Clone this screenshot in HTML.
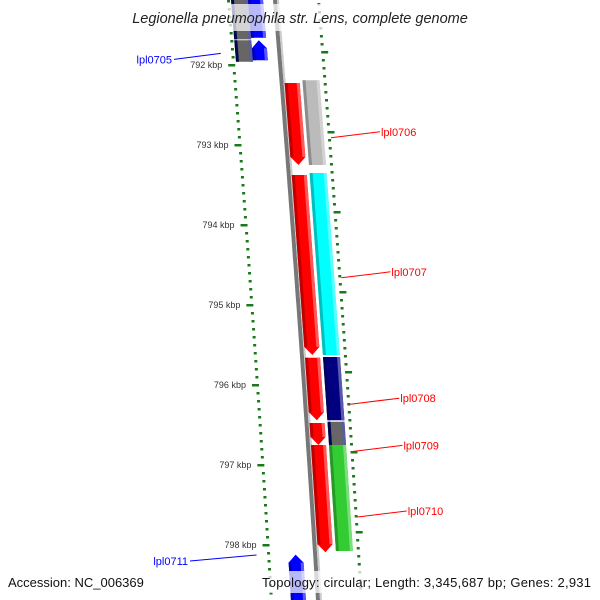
<!DOCTYPE html>
<html><head><meta charset="utf-8"><style>
html,body{margin:0;padding:0;background:#fff;}
svg{display:block;font-family:"Liberation Sans","DejaVu Sans",sans-serif;}
</style></head><body>
<svg id="map" width="600" height="600" viewBox="0 0 600 600" xmlns="http://www.w3.org/2000/svg">
<g id="ticks"></g>
<g id="backbone"></g>
<g id="features"></g>
<g id="labels"></g>
<rect x="0" y="4" width="600" height="27" fill="#fff" fill-opacity="0.72"/>
<text x="300" y="23" text-anchor="middle" font-size="14.5" font-style="italic" fill="#222">Legionella pneumophila str. Lens, complete genome</text>
<rect x="4" y="571" width="126" height="22" fill="#fff" fill-opacity="0.72"/>
<text x="8" y="587" font-size="13" fill="#111">Accession: NC_006369</text>
<rect x="258" y="571" width="338" height="22" fill="#fff" fill-opacity="0.72"/>
<text x="262" y="587" font-size="13" fill="#111" textLength="329">Topology: circular; Length: 3,345,687 bp; Genes: 2,931</text>
</svg>
<script>
// ---- data (kbp) ----
const majorTicks = [792, 793, 794, 795, 796, 797, 798];
const tickLabels = ["792 kbp","793 kbp","794 kbp","795 kbp","796 kbp","797 kbp","798 kbp"];
const featureNames = ["lpl0705a","lpl0705","lpl0705-blue-a","lpl0705-blue","lpl0706","lpl0706-cog","lpl0707","lpl0707-cog","lpl0708","lpl0708-cog","lpl0709","lpl0709-cog","lpl0710","lpl0710-cog","lpl0711"];
const featureStart = [791.0, 791.69, 791.0, 791.69, 792.225, 792.19, 793.375, 793.35, 795.66, 795.65, 796.475, 796.46, 796.75, 796.75, 798.12];
const featureEnd   = [791.68, 791.96, 791.66, 791.94, 793.25, 793.25, 795.625, 795.625, 796.44, 796.44, 796.75, 796.75, 798.09, 798.075, 799.0];
const featureTrack = ["L2","L2","L1","L1","R1","R2","R1","R2","R1","R2","R1","R2","R1","R2","L1"];
const featureArrow = ["none","none","none","up","down","none","down","none","down","none","down","none","down","none","up"];
const featureColor = ["#666","#666","#0000ff","#0000ff","#ff0000","#bbbbbb","#ff0000","#00ffff","#ff0000","#000080","#ff0000","#666","#ff0000","#33cc33","#0000ff"];
const labelText = ["lpl0705","lpl0706","lpl0707","lpl0708","lpl0709","lpl0710","lpl0711"];
const labelKbp  = [791.93, 792.91, 794.66, 796.24, 796.83, 797.65, 798.2];
const labelSide = ["L","R","R","R","R","R","L"];
// ---- axes ----
const Y0 = 65, PXK = 80;
function yOf(k){ return Y0 + (k - 792) * PXK; }
function bb(y){ return 273 + 0.0817*y - 1.68e-5*y*y; }
const trackOff = {L2:[-42,-25], L1:[-25,-10], R1:[5,20], R2:[23,40]};
const NS = "http://www.w3.org/2000/svg";
function mk(tag, attrs, parent){ const e=document.createElementNS(NS,tag); for(const k in attrs) e.setAttribute(k,attrs[k]); parent.appendChild(e); return e; }
const gT=document.getElementById('ticks'), gB=document.getElementById('backbone'), gF=document.getElementById('features'), gL=document.getElementById('labels');
// backbone
function linePts(off){ let s=[]; for(let y=-5;y<=605;y+=10) s.push((bb(y)+off).toFixed(1)+","+y); return s.join(" "); }
let bl1 = mk('polyline',{points:linePts(2),fill:'none',stroke:'#777','stroke-width':4},gB);


let bl2 = mk('polyline',{points:linePts(5),fill:'none',stroke:'#ccc','stroke-width':2},gB);


// minor ticks
for(let k=791.0;k<=798.8;k+=0.1){
  const kk=Math.round(k*10)/10; const y=yOf(kk);
  if(Math.abs(kk-Math.round(kk))>0.01){
    const x=bb(y)-46;
    const d=mk('rect',{x:x,y:y-1,width:3,height:2.5,fill:'#1a7a1a'},gT);
    
    
  }
  const yr=yOf(kk)-13; const xr=bb(yr)+44;
  const isMaj=Math.abs((kk*10)%10-0)<0.01 || Math.abs((kk*10)%10-10)<0.01;
  const r=mk('rect',{x:xr,y:yr-1,width:isMaj?7:3,height:2.5,fill:'#1a7a1a'},gT);
  
  
}
majorTicks.forEach((k,i)=>{
  const y=yOf(k), x=bb(y)-50;
  const t=mk('rect',{x:x,y:y-1,width:7,height:2.5,fill:'#1a7a1a'},gT);
  
  
  const l=mk('text',{x:x-6,y:y+3,'font-size':9,'text-anchor':'end',fill:'#333'},gT);
  l.textContent=tickLabels[i];
  
  
});
// features
function shade(hex,f){ const n=parseInt(hex.slice(1),16); let r=n>>16,g=(n>>8)&255,b=n&255;
  const m=c=>Math.round(f>1? c+(255-c)*(f-1): c*f); return `rgb(${m(r)},${m(g)},${m(b)})`; }
featureNames.forEach((nm,i)=>{
  const y1=yOf(featureStart[i]), y2=yOf(featureEnd[i]);
  const [o1,o2]=trackOff[featureTrack[i]]; const mid=(o1+o2)/2; const tip=8;
  let pts=[];
  const P=(o,y)=>pts.push((bb(y)+o).toFixed(1)+","+y.toFixed(1));
  if(featureArrow[i]==="down"){ P(o1,y1);P(o2,y1);P(o2,y2-tip);P(mid,y2);P(o1,y2-tip); }
  else if(featureArrow[i]==="up"){ P(mid,y1);P(o2,y1+tip);P(o2,y2);P(o1,y2);P(o1,y1+tip); }
  else { P(o1,y1);P(o2,y1);P(o2,y2);P(o1,y2); }
  const g=mk('g',{},gF);
  
  
  mk('polygon',{points:pts.join(" "),fill:featureColor[i]},g);
  // bevel strips
  const ya=y1+(featureArrow[i]==="up"?tip:0), yb=y2-(featureArrow[i]==="down"?tip:0);
  const sL=[(bb(ya)+o1)+","+ya,(bb(ya)+o1+3)+","+ya,(bb(yb)+o1+3)+","+yb,(bb(yb)+o1)+","+yb].join(" ");
  mk('polygon',{points:sL,fill:shade(featureColor[i],0.75)},g);
  const sR=[(bb(ya)+o2-3)+","+ya,(bb(ya)+o2)+","+ya,(bb(yb)+o2)+","+yb,(bb(yb)+o2-3)+","+yb].join(" ");
  mk('polygon',{points:sR,fill:shade(featureColor[i],1.35)},g);
});
// labels
labelText.forEach((t,i)=>{
  const y=yOf(labelKbp[i]);
  if(labelSide[i]==="R"){
    const x1=bb(y)+47, x2=x1+49;
    const ln=mk('line',{x1:x1,y1:y,x2:x2,y2:y-6,stroke:'#f00','stroke-width':1},gL);
    
    
    const tx=mk('text',{x:x2+1,y:y-2,'font-size':11,fill:'#f00'},gL);
    tx.textContent=t;
    
    
  } else {
    const x1=bb(y)-57;
    const x2= t==="lpl0711" ? 190 : 174;
    const ln=mk('line',{x1:x1,y1:y-6,x2:x2,y2:y,stroke:'#00f','stroke-width':1},gL);
    
    
    const tx=mk('text',{x:x2-2,y:y+4,'font-size':11,'text-anchor':'end',fill:'#00f'},gL);
    tx.textContent=t;
    
    
  }
});
</script>
</body></html>
